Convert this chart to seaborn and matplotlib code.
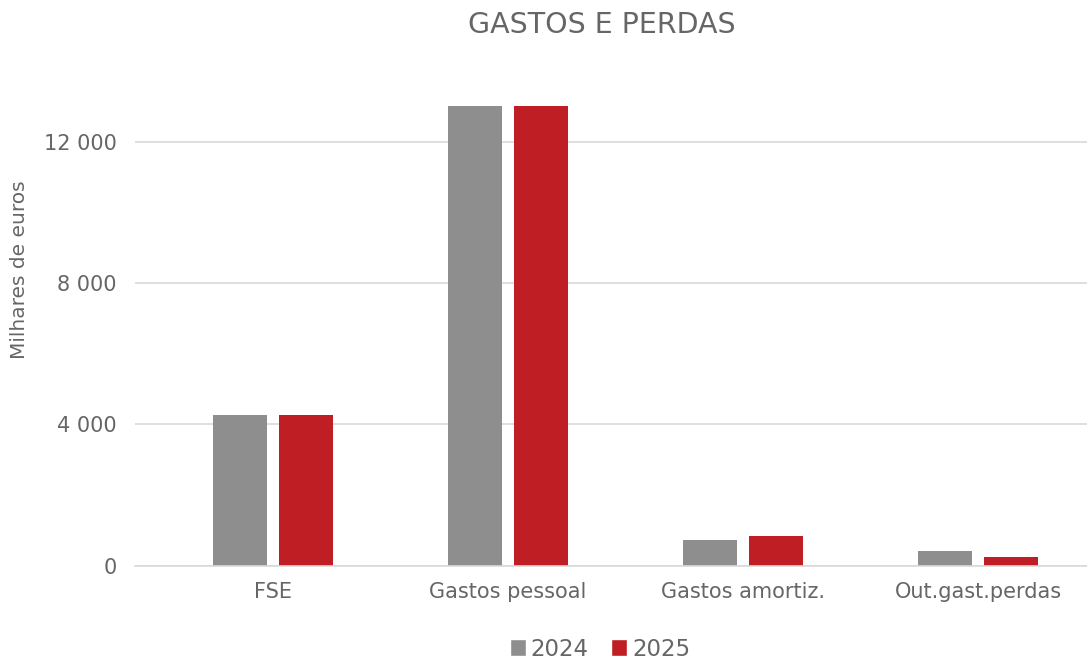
import numpy as np
import pandas as pd
import matplotlib
matplotlib.use("Agg")
import matplotlib.pyplot as plt
import seaborn as sns
from matplotlib.patches import Patch

categorias = ["FSE", "Gastos pessoal", "Gastos amortiz.", "Out.gast.perdas"]
anos = ["2024", "2025"]
valores_2024 = [4260, 13010, 710, 420]
valores_2025 = [4270, 13010, 840, 235]
yticks = [0, 4000, 8000, 12000]
ytick_labels = ["0", "4 000", "8 000", "12 000"]

cores = {"2024": "#8f8e8e", "2025": "#be1e24"}
cinza_txt = "#666666"

df = pd.DataFrame({
    "categoria": categorias * 2,
    "ano": [anos[0]] * len(categorias) + [anos[1]] * len(categorias),
    "valor": valores_2024 + valores_2025,
})

sns.set_style("white")
plt.rcParams["font.family"] = ["DejaVu Sans"]

fig = plt.figure(figsize=(10.87, 6.59), dpi=100)
ax = fig.add_axes([135 / 1087, (659 - 565.5) / 659, (1087 - 135) / 1087, (565.5 - 71.2) / 659])

sns.barplot(data=df, x="categoria", y="valor", hue="ano", palette=cores,
            width=0.562, gap=0.182, legend=False, ax=ax, saturation=1,
            linewidth=0)

ax.set_xlim((135 - 273) / 235, (1087 - 273) / 235)
ax.set_ylim(0, 14000)
ax.set_yticks(yticks)
ax.set_yticklabels(ytick_labels)
ax.yaxis.grid(True, color="#d9d9d9", linewidth=1.2)
ax.set_axisbelow(True)
for s in ["top", "right", "left"]:
    ax.spines[s].set_visible(False)
ax.spines["bottom"].set_color("#d9d9d9")
ax.spines["bottom"].set_linewidth(1.2)
ax.tick_params(axis="both", length=0, labelsize=15, labelcolor=cinza_txt)
ax.tick_params(axis="y", pad=13)
ax.tick_params(axis="x", pad=12)
ax.set_xlabel("")
ax.set_ylabel("Milhares de euros", fontsize=14.5, color=cinza_txt)
ax.yaxis.set_label_coords(-106 / 952, (565.5 - 270) / 494.3)

fig.text(602 / 1087, 1 - 25 / 659, "GASTOS E PERDAS", ha="center", va="center",
         fontsize=20.5, color=cinza_txt)

handles = [Patch(facecolor=cores[a], label=a) for a in anos]
fig.legend(handles=handles, loc="center", bbox_to_anchor=(600 / 1087, 1 - 649 / 659),
           ncol=2, frameon=False, fontsize=16.5, labelcolor=cinza_txt,
           handlelength=0.7, handleheight=0.7, handletextpad=0.2, columnspacing=1.0)

fig.savefig("out.png", dpi=100)
